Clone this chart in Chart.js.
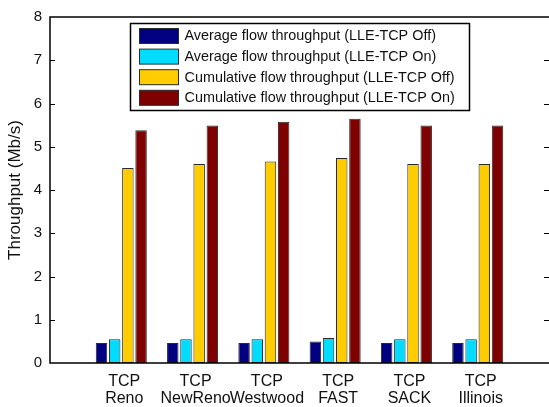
<!DOCTYPE html>
<html>
<head>
<meta charset="utf-8">
<script src="https://cdn.jsdelivr.net/npm/chart.js@4/dist/chart.umd.min.js"></script>
<style>
  html, body { margin: 0; padding: 0; background: #fff; }
  canvas { display: block; }
</style>
</head>
<body>
<canvas id="c" width="549" height="407"></canvas>
<script>
// TCP variants along the x axis (two-line labels)
const categories = [
  ['TCP', 'Reno'],
  ['TCP', 'NewReno'],
  ['TCP', 'Westwood'],
  ['TCP', 'FAST'],
  ['TCP', 'SACK'],
  ['TCP', 'Illinois']
];

const seriesNames = [
  'Average flow throughput (LLE-TCP Off)',
  'Average flow throughput (LLE-TCP On)',
  'Cumulative flow throughput (LLE-TCP Off)',
  'Cumulative flow throughput (LLE-TCP On)'
];

// Throughput in Mb/s
const avgOff = [0.46, 0.46, 0.46, 0.50, 0.46, 0.46];
const avgOn  = [0.55, 0.55, 0.55, 0.58, 0.55, 0.55];
const cumOff = [4.51, 4.60, 4.66, 4.74, 4.60, 4.60];
const cumOn  = [5.38, 5.49, 5.58, 5.65, 5.49, 5.49];

const yTicks = [0, 1, 2, 3, 4, 5, 6, 7, 8];

const colors = ['#000080', '#00dcff', '#ffcc00', '#7f0000'];
const FONT = '"Liberation Sans", Arial, Helvetica, sans-serif';

// Empty slots on both ends leave a blank category of space at each side
const labels = [''].concat(categories, ['']);
const pad = arr => [null].concat(arr, [null]);

const datasets = [avgOff, avgOn, cumOff, cumOn].map((vals, i) => ({
  label: seriesNames[i],
  data: pad(vals),
  backgroundColor: colors[i],
  borderColor: '#2a2a2a',
  borderWidth: 1,
  borderSkipped: false,
  categoryPercentage: 0.74,
  barPercentage: 0.87
}));

// Plot frame, inward tick marks and the boxed legend
const framePlugin = {
  id: 'frame',
  afterDatasetsDraw(chart) {
    const ctx = chart.ctx;
    const a = chart.chartArea;
    const y = chart.scales.y;
    ctx.save();
    ctx.strokeStyle = '#000';
    ctx.lineWidth = 1.5;
    ctx.beginPath();
    ctx.moveTo(a.right + 2, a.top);
    ctx.lineTo(a.left, a.top);
    ctx.lineTo(a.left, a.bottom);
    ctx.lineTo(a.right + 2, a.bottom);
    ctx.stroke();

    ctx.lineWidth = 1;
    ctx.beginPath();
    yTicks.forEach(v => {
      if (v === yTicks[0] || v === yTicks[yTicks.length - 1]) return;
      const py = Math.round(y.getPixelForValue(v)) + 0.5;
      ctx.moveTo(a.left, py);
      ctx.lineTo(a.left + 5, py);
      ctx.moveTo(a.right - 5, py);
      ctx.lineTo(a.right, py);
    });
    ctx.stroke();

    // legend box
    const bw = 339, bh = 87;
    const bx = Math.round((a.left + a.right) / 2 - bw / 2) + 0.5;
    const by = a.top + 6.5;
    ctx.fillStyle = '#fff';
    ctx.fillRect(bx, by, bw, bh);
    ctx.lineWidth = 1.5;
    ctx.strokeStyle = '#000';
    ctx.strokeRect(bx, by, bw, bh);

    ctx.font = '14.4px ' + FONT;
    ctx.textBaseline = 'middle';
    ctx.textAlign = 'left';
    chart.data.datasets.forEach((ds, i) => {
      const cy = by + 12.5 + i * 20.6;
      ctx.fillStyle = ds.backgroundColor;
      ctx.fillRect(bx + 9, cy - 7.5, 39, 15);
      ctx.lineWidth = 1;
      ctx.strokeStyle = '#2a2a2a';
      ctx.strokeRect(bx + 9, cy - 7.5, 39, 15);
      ctx.fillStyle = '#111';
      ctx.fillText(ds.label, bx + 54, cy + 0.5);
    });
    ctx.restore();
  }
};

new Chart(document.getElementById('c'), {
  type: 'bar',
  data: { labels, datasets },
  options: {
    responsive: false,
    animation: false,
    devicePixelRatio: 1,
    layout: { padding: { top: 13, right: 0, bottom: 0, left: 0 } },
    plugins: {
      legend: { display: false },
      tooltip: { enabled: false }
    },
    scales: {
      x: {
        type: 'category',
        offset: false,
        grid: { display: false, drawTicks: false },
        border: { display: false },
        ticks: {
          autoSkip: false,
          maxRotation: 0,
          minRotation: 0,
          padding: 10,
          labelOffset: 3,
          color: '#111',
          font: { family: FONT, size: 16, lineHeight: 1.07 }
        },
        afterFit(scale) {
          scale.height = 44;
          scale.paddingLeft = 0;
          scale.paddingRight = 0;
        }
      },
      y: {
        min: 0,
        max: 8,
        afterBuildTicks(scale) { scale.ticks = yTicks.map(v => ({ value: v })); },
        grid: { display: false, drawTicks: false },
        border: { display: false },
        ticks: {
          padding: 8,
          color: '#111',
          font: { family: FONT, size: 15 }
        },
        title: {
          display: true,
          text: 'Throughput (Mb/s)',
          color: '#111',
          font: { family: FONT, size: 17 },
          padding: { top: 5, bottom: 0 }
        },
        afterFit(scale) { scale.width = 50; }
      }
    }
  },
  plugins: [framePlugin]
});
</script>
</body>
</html>
